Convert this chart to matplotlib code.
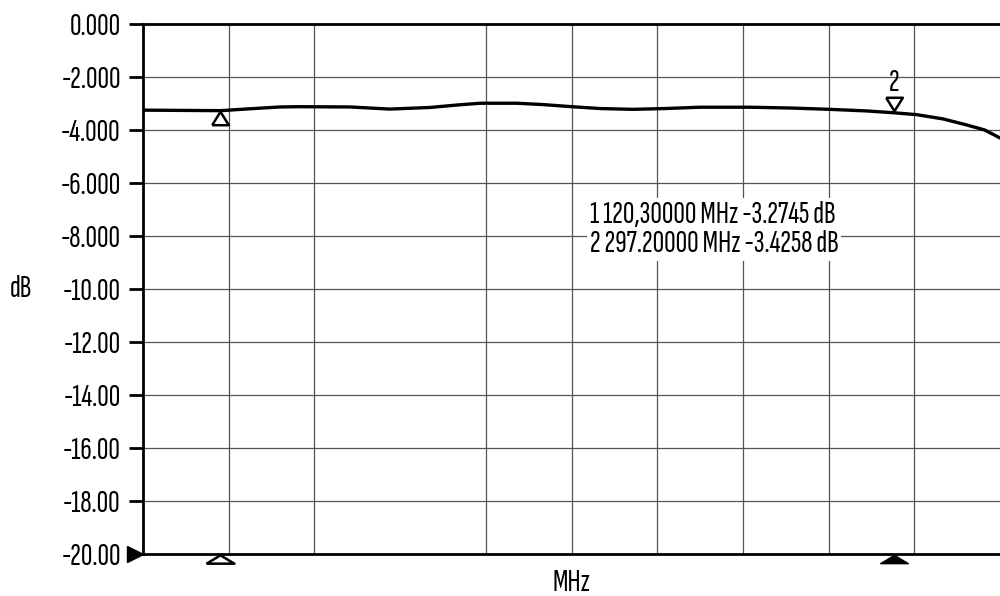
import matplotlib
matplotlib.use("Agg")
import matplotlib.pyplot as plt
from matplotlib.transforms import offset_copy, blended_transform_factory

# ---- data ----
freq_mhz = [100.0, 110.0, 120.3, 128.0, 136.0, 141.2, 154.3, 164.8, 175.3, 183.0,
            188.5, 198.2, 205.0, 212.6, 220.0, 228.6, 237.0, 246.2, 259.3, 270.0,
            280.3, 290.0, 297.2, 303.1, 310.0, 316.3, 321.0, 325.0]
gain_db = [-3.25, -3.26, -3.27, -3.20, -3.13, -3.12, -3.13, -3.21, -3.15, -3.05,
           -2.99, -2.99, -3.04, -3.12, -3.19, -3.22, -3.19, -3.14, -3.14, -3.17,
           -3.22, -3.28, -3.35, -3.42, -3.58, -3.81, -4.00, -4.30]

y_ticks = [0, -2, -4, -6, -8, -10, -12, -14, -16, -18, -20]
y_tick_labels = ["0.000", "-2.000", "-4.000", "-6.000", "-8.000", "-10.00",
                 "-12.00", "-14.00", "-16.00", "-18.00", "-20.00"]
x_grid = [122.5, 145.0, 190.0, 212.5, 235.0, 257.5, 280.0, 302.5]

marker_freq = [120.3, 297.2]
marker_db = [-3.2745, -3.4258]
marker_text = ["1 120,30000 MHz -3.2745 dB", "2 297.20000 MHz -3.4258 dB"]

x_min, x_max = 100.0, 325.0
y_min, y_max = -20.0, 0.0

plt.rcParams['font.family'] = ['Sofia Sans Extra Condensed', 'DejaVu Sans']
FS = 23

fig = plt.figure(figsize=(10, 5.96), dpi=100)
ax = fig.add_axes([0.143, 0.0705, 0.857, 0.8892])
ax.set_xlim(x_min, x_max)
ax.set_ylim(y_min, y_max)

# grid
ax.set_xticks(x_grid)
ax.set_xticklabels([])
ax.tick_params(axis='x', length=0)
ax.set_yticks(y_ticks)
ax.set_yticklabels(y_tick_labels, fontsize=FS)
ax.tick_params(axis='y', length=10, width=2, pad=6, color='black')
for x in x_grid:
    ax.axvline(x, color='#555555', lw=0.9, zorder=1)
for y in y_ticks[1:-1]:
    ax.axhline(y, color='#555555', lw=0.9, zorder=1)

for s in ['left', 'top', 'bottom']:
    ax.spines[s].set_linewidth(2)
    ax.spines[s].set_color('black')
ax.spines['right'].set_visible(False)

# trace
ax.plot(freq_mhz, gain_db, color='black', lw=2.4, zorder=3)

# markers on the trace
up_tri = [(-0.62, -0.5), (0.62, -0.5), (0.0, 0.5), (-0.62, -0.5)]
down_tri = [(-0.62, 0.5), (0.62, 0.5), (0.0, -0.5), (-0.62, 0.5)]
tr1 = offset_copy(ax.transData, fig=fig, x=0, y=-5, units='points')
ax.plot([marker_freq[0]], [marker_db[0]], marker=up_tri, ms=12, mfc='white',
        mec='black', mew=1.8, ls='none', transform=tr1, zorder=4)
tr2 = offset_copy(ax.transData, fig=fig, x=0, y=8, units='points')
ax.plot([marker_freq[1]], [marker_db[1]], marker=down_tri, ms=12, mfc='white',
        mec='black', mew=1.8, ls='none', transform=tr2, zorder=4)
tr2t = offset_copy(ax.transData, fig=fig, x=0, y=23, units='points')
ax.text(marker_freq[1], marker_db[1], "2", transform=tr2t, ha='center',
        va='center', fontsize=FS, zorder=5)

# markers below the axis
flat_up = [(-1.0, -0.3), (1.0, -0.3), (0.0, 0.3), (-1.0, -0.3)]
btr = offset_copy(blended_transform_factory(ax.transData, ax.transAxes),
                  fig=fig, x=0, y=-3.5, units='points')
ax.plot([marker_freq[0]], [0], marker=flat_up, ms=20, mfc='white', mec='black',
        mew=1.8, ls='none', transform=btr, clip_on=False, zorder=5)
ax.plot([marker_freq[1]], [0], marker=flat_up, ms=20, mfc='black', mec='black',
        mew=1.0, ls='none', transform=btr, clip_on=False, zorder=5)

# reference-level marker on the left
ltr = offset_copy(blended_transform_factory(ax.transAxes, ax.transData),
                  fig=fig, x=-6, y=0, units='points')
ax.plot([0], [y_min], marker='>', ms=11, mfc='black', mec='black', ls='none',
        transform=ltr, clip_on=False, zorder=5)

# marker readout
ax.text(217.3, -7.74, "\n".join(marker_text), ha='left', va='center',
        fontsize=FS, linespacing=1.05, zorder=6,
        bbox=dict(facecolor='white', edgecolor='none', pad=2))

fig.text(0.021, 1 - 289 / 596, "dB", ha='center', va='center', fontsize=FS)
fig.text(0.571, 1 - 583 / 596, "MHz", ha='center', va='center', fontsize=FS)

fig.savefig("out.png", dpi=100)
